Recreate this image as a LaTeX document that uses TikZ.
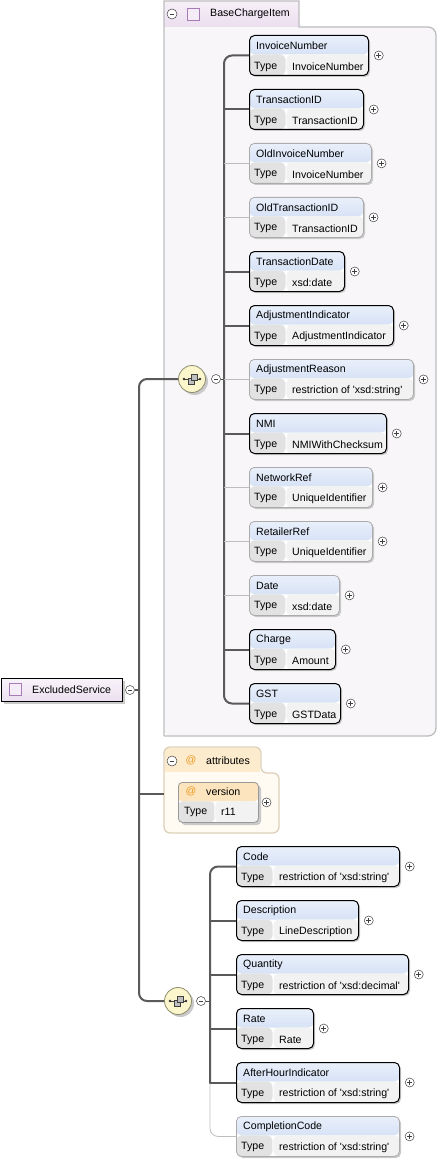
\documentclass[tikz,border=0pt]{standalone}
\usepackage{fontspec}
\setmainfont{Liberation Sans}
\usetikzlibrary{positioning}
\definecolor{hdtop}{HTML}{EAF0FB}
\definecolor{hdbot}{HTML}{C0D3F0}
\definecolor{typec}{HTML}{E2E2E2}
\definecolor{valc}{HTML}{F2F2F2}
\definecolor{shd}{HTML}{C9C9C9}
\definecolor{lnreq}{HTML}{5A5A5A}
\definecolor{lnopt}{HTML}{BDBDBD}
\definecolor{grpbrd}{HTML}{BDBDBD}
\definecolor{grpbody}{HTML}{F9F6FA}
\definecolor{grptab}{HTML}{ECDFF0}
\definecolor{attbrd}{HTML}{DDD0BA}
\definecolor{attbody}{HTML}{FFFAF2}
\definecolor{atttab}{HTML}{FCEBCD}
\definecolor{atthd}{HTML}{FCE5BE}
\definecolor{atsign}{HTML}{EE9A22}
\definecolor{seqfill}{HTML}{FBF6CB}
\definecolor{seqbrd}{HTML}{8C8A6C}
\definecolor{icnbrd}{HTML}{A77BB6}
\definecolor{icnfill}{HTML}{F4ECF7}

% element box: name, x, y, width, title, type, border style
\newcommand{\elem}[7]{%
  \fill[shd,rounded corners=5pt] (#2+2,#3+2) rectangle ++(#4,40);
  \node[elbox,#7,minimum width=#4pt,anchor=north west] (#1) at (#2,#3) {};
  \node[lbl,anchor=west] (#1h) at ([xshift=7pt,yshift=-10.5pt]#1.north west) {#5};
  \node[lbl,anchor=west] (#1k) at ([xshift=5pt,yshift=9.5pt]#1.south west) {Type};
  \node[lbl,anchor=west] (#1v) at ([xshift=43pt,yshift=9.5pt]#1.south west) {#6};
  \node[plus,right=5pt of #1] (#1p) {};
}
% sequence icon
\newcommand{\seqicon}[1]{%
  \begin{scope}[shift={(#1.center)}]
    \draw[black!75,line width=0.7pt] (-8,0) -- (8,0);
    \fill[black!80] (-8,0) circle (1.3) (8,0) circle (1.3);
    \draw[black!75,fill=gray!50,line width=0.6pt] (-4,-1) rectangle (2,5);
    \draw[black!75,fill=gray!50,line width=0.6pt] (-1,-5) rectangle (5,1);
  \end{scope}}

\begin{document}
\begin{tikzpicture}[x=1pt,y=-1pt,
    lbl/.style={font=\fontsize{10.6}{12}\selectfont,inner sep=0pt,text=black},
    elbox/.style={rectangle,rounded corners=5pt,inner sep=0pt,minimum height=40pt,fill=white,
      path picture={
        \fill[top color=hdtop,bottom color=hdbot] (path picture bounding box.north west) rectangle ([yshift=21pt]path picture bounding box.south east);
        \fill[typec] (path picture bounding box.south west) rectangle ([xshift=36pt,yshift=21pt]path picture bounding box.south west);
        \fill[valc] ([xshift=37pt]path picture bounding box.south west) rectangle ([yshift=21pt]path picture bounding box.south east);
      }},
    attbox/.style={rectangle,rounded corners=4pt,inner sep=0pt,minimum height=40pt,fill=white,draw=black!40,line width=0.8pt,
      path picture={
        \fill[atthd] (path picture bounding box.north west) rectangle ([yshift=21pt]path picture bounding box.south east);
        \fill[typec] (path picture bounding box.south west) rectangle ([xshift=36pt,yshift=21pt]path picture bounding box.south west);
        \fill[valc] ([xshift=37pt]path picture bounding box.south west) rectangle ([yshift=21pt]path picture bounding box.south east);
      }},
    reqbox/.style={draw=black,line width=1pt},
    optbox/.style={draw=black!33,line width=0.8pt},
    reqline/.style={draw=lnreq,line width=2pt},
    optline/.style={draw=lnopt,line width=0.8pt},
    plus/.style={circle,draw=black!75,fill=white,minimum size=9pt,inner sep=0pt,line width=0.5pt,
      path picture={\draw[line width=0.6pt] ([xshift=-2.3pt]path picture bounding box.center) -- ([xshift=2.3pt]path picture bounding box.center) ([yshift=-2.3pt]path picture bounding box.center) -- ([yshift=2.3pt]path picture bounding box.center);}},
    minus/.style={circle,draw=black!75,fill=white,minimum size=9pt,inner sep=0pt,line width=0.5pt,
      path picture={\draw[line width=0.6pt] ([xshift=-2.3pt]path picture bounding box.center) -- ([xshift=2.3pt]path picture bounding box.center);}},
    seq/.style={circle,minimum size=27pt,inner sep=0pt,draw=seqbrd,fill=seqfill,line width=0.8pt},
    icon/.style={rectangle,minimum size=12pt,inner sep=0pt,draw=icnbrd,fill=icnfill,line width=0.8pt},
  ]
  \useasboundingbox (0,0) rectangle (438,1161);

  % BaseChargeItem group
  \fill[grpbody,rounded corners=7pt] (164,1) -- (299,1) -- (299,27) -- (436,27) -- (436,736) -- (164,736) -- cycle;
  \fill[top color=grptab!50,bottom color=grptab] (164.6,1.6) rectangle (298.4,26.4);
  \draw[grpbrd,line width=1.3pt] (164,736) -- (164,1) -- (299,1) -- (299,27) [rounded corners=8pt] -- (436,27) -- (436,736) -- (164,736);
  \node[minus,minimum size=10pt] (bciM) at (172,14) {};
  \node[icon] (bciIcon) at (193.5,14) {};
  \node[lbl,anchor=west] (bciName) at (210,14) {BaseChargeItem};

  % attributes group
  \fill[attbody,rounded corners=6pt] (164,747) -- (261,747) -- (261,773) -- (279,773) -- (279,833) -- (164,833) -- cycle;
  \fill[atttab] (164.6,747.6) rectangle (260.4,772.4);
  \draw[attbrd,line width=1.3pt,rounded corners=6pt] (164,773) -- (164,747) -- (261,747) -- (261,773) -- (279,773) -- (279,833) -- (164,833) -- cycle;
  \node[minus,minimum size=10pt] (attM) at (172,761) {};
  \node[lbl,anchor=center,text=atsign] (attAt) at (191,760) {@};
  \node[lbl,anchor=west] (attName) at (206,761) {attributes};
  \coordinate (attIn) at (164,794);

  % root
  \fill[shd] (4,681) rectangle ++(121,23);
  \node[rectangle,anchor=north west,minimum width=121pt,minimum height=23pt,inner sep=0pt,draw=black,line width=1pt,top color=white!60!grptab,bottom color=grptab!80!icnbrd!60] (excl) at (1,678) {};
  \node[icon] (exclIcon) at (15.5,689.5) {};
  \node[lbl,anchor=west] (exclName) at (32,689.5) {ExcludedService};
  \node[minus] (exclM) at (130,690) {};

  % sequences
  \fill[shd] (194.5,381.5) circle (13.5);
  \node[seq] (seqA) at (192,379) {};
  \seqicon{seqA}
  \node[minus] (seqAm) at (216,379) {};
  \fill[shd] (180.5,1003.5) circle (13.5);
  \node[seq] (seqB) at (178,1001) {};
  \seqicon{seqB}
  \node[minus] (seqBm) at (201,1001) {};

  % elements
  \elem{invoiceNumber}{249}{35}{119}{InvoiceNumber}{InvoiceNumber}{reqbox}
  \elem{transactionID}{249}{89}{114}{TransactionID}{TransactionID}{reqbox}
  \elem{oldInvoiceNumber}{249}{143}{122}{OldInvoiceNumber}{InvoiceNumber}{optbox}
  \elem{oldTransactionID}{249}{197}{114}{OldTransactionID}{TransactionID}{optbox}
  \elem{transactionDate}{249}{251}{95}{TransactionDate}{xsd:date}{reqbox}
  \elem{adjIndicator}{249}{305}{144}{AdjustmentIndicator}{AdjustmentIndicator}{reqbox}
  \elem{adjReason}{249}{359}{164}{AdjustmentReason}{restriction of \textquotesingle xsd:string\textquotesingle}{optbox}
  \elem{nmi}{249}{413}{137}{NMI}{NMIWithChecksum}{reqbox}
  \elem{networkRef}{249}{467}{123}{NetworkRef}{UniqueIdentifier}{optbox}
  \elem{retailerRef}{249}{521}{123}{RetailerRef}{UniqueIdentifier}{optbox}
  \elem{date}{249}{575}{90}{Date}{xsd:date}{optbox}
  \elem{charge}{249}{629}{86}{Charge}{Amount}{reqbox}
  \elem{gst}{249}{683}{91}{GST}{GSTData}{reqbox}

  \elem{code}{236}{846}{163}{Code}{restriction of \textquotesingle xsd:string\textquotesingle}{reqbox}
  \elem{description}{236}{900}{122}{Description}{LineDescription}{reqbox}
  \elem{quantity}{236}{954}{172}{Quantity}{restriction of \textquotesingle xsd:decimal\textquotesingle}{reqbox}
  \elem{rate}{236}{1008}{77}{Rate}{Rate}{reqbox}
  \elem{afterHour}{236}{1062}{163}{AfterHourIndicator}{restriction of \textquotesingle xsd:string\textquotesingle}{reqbox}
  \elem{completionCode}{236}{1116}{163}{CompletionCode}{restriction of \textquotesingle xsd:string\textquotesingle}{optbox}

  % version attribute
  \fill[shd,rounded corners=4pt] (181,785) rectangle ++(80,40);
  \node[attbox,minimum width=80pt,anchor=north west] (version) at (178,782) {};
  \node[lbl,text=atsign] (versionAt) at (191,791) {@};
  \node[lbl,anchor=west] (versionName) at (206,792) {version};
  \node[lbl,anchor=west] (versionK) at (184,812) {Type};
  \node[lbl,anchor=west] (versionV) at (221,812) {r11};
  \node[plus,right=3pt of version] (versionP) {};

  % root connectors
  \coordinate (trunk) at (139,690);
  \draw[reqline,rounded corners=8pt] (seqA.west) -| (trunk) |- (seqB.west);
  \draw[reqline] (exclM.east) -- (trunk);
  \draw[reqline] (trunk |- attIn) -- (attIn);

  % first sequence
  \coordinate (barA) at (224,379);
  \draw[black!70,line width=0.8pt] (seqAm.east) -- (barA);
  \draw[reqline,rounded corners=8pt] (invoiceNumber.west) -| (barA) |- (gst.west);
  \draw[reqline] (barA |- transactionID.west) -- (transactionID.west);
  \draw[optline] (barA |- oldInvoiceNumber.west) -- (oldInvoiceNumber.west);
  \draw[optline] (barA |- oldTransactionID.west) -- (oldTransactionID.west);
  \draw[reqline] (barA |- transactionDate.west) -- (transactionDate.west);
  \draw[reqline] (barA |- adjIndicator.west) -- (adjIndicator.west);
  \draw[optline] (barA |- adjReason.west) -- (adjReason.west);
  \draw[reqline] (barA |- nmi.west) -- (nmi.west);
  \draw[optline] (barA |- networkRef.west) -- (networkRef.west);
  \draw[optline] (barA |- retailerRef.west) -- (retailerRef.west);
  \draw[optline] (barA |- date.west) -- (date.west);
  \draw[reqline] (barA |- charge.west) -- (charge.west);

  % second sequence
  \coordinate (barB) at (210,1001);
  \draw[black!70,line width=0.8pt] (seqBm.east) -- (barB);
  \draw[optline,rounded corners=8pt] (barB |- afterHour.west) |- (completionCode.west);
  \draw[reqline,rounded corners=8pt] (code.west) -| ([yshift=-1pt]barB |- afterHour.west);
  \draw[reqline] (barB |- description.west) -- (description.west);
  \draw[reqline] (barB |- quantity.west) -- (quantity.west);
  \draw[reqline] (barB |- rate.west) -- (rate.west);
  \draw[reqline] (barB |- afterHour.west) -- (afterHour.west);
\end{tikzpicture}
\end{document}
